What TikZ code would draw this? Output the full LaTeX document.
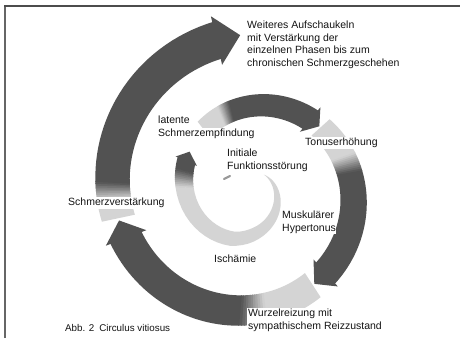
\documentclass[tikz,border=0pt]{standalone}
\usepackage{fontspec}
\setmainfont{Liberation Sans}
\colorlet{lightband}{black!17}
\colorlet{darkband}{black!68}
% one piece of the spiral band between two angles
\newcommand\bandpiece[4]{%
  \fill[#3] plot[variable=\t,domain=#1:#2,samples=#4]
    ({px(\t,rr(\t)+ww(\t)/2)},{py(\t,rr(\t)+ww(\t)/2)})
    -- plot[variable=\t,domain=#2:#1,samples=#4]
    ({px(\t,rr(\t)-ww(\t)/2)},{py(\t,rr(\t)-ww(\t)/2)}) -- cycle;}
% light-to-dark transition
\newcommand\gradpiece[3]{%
  \foreach \gi in {1,...,#3}{%
    \pgfmathsetmacro\gta{#1+(#2-#1)*(\gi-1)/#3}%
    \pgfmathsetmacro\gtb{#1+(#2-#1)*\gi/#3+0.4}%
    \pgfmathtruncatemacro\gpc{17+(68-17)*(\gi-0.5)/#3}%
    \bandpiece{\gta}{\gtb}{black!\gpc}{3}%
  }}
% arrow head
\newcommand\arrowtip[3]{%
  \fill[darkband] ({px(#1,rr(#1)+ww(#1)/2+#3)},{py(#1,rr(#1)+ww(#1)/2+#3)})
    -- ({px(#2,rr(#2))},{py(#2,rr(#2))})
    -- ({px(#1,rr(#1)-ww(#1)/2-#3)},{py(#1,rr(#1)-ww(#1)/2-#3)}) -- cycle;}
% a whole segment: start, light end, dark start, arrow base, arrow tip, barb
\newcommand\spiralseg[6]{%
  \bandpiece{#1}{#2+0.4}{lightband}{40}%
  \gradpiece{#2}{#3}{10}%
  \bandpiece{#3}{#4+0.5}{darkband}{30}%
  \arrowtip{#4}{#5}{#6}}
\begin{document}
\begin{tikzpicture}[x=1pt,y=-1pt,
  declare function={
    rr(\t)=30+\t/5-(\t<110)*6*sin((\t+50)*1.125);
    ww(\t)=min(10+0.045*\t,0.1*(\t+50));
    px(\t,\R)=251+\R*cos(\t);
    py(\t,\R)=190+\R*sin(\t);
  },
  lbl/.style={font=\fontsize{10.5}{12.6}\selectfont, inner sep=1pt,
    fill=white, align=left, text=black!92},
  captext/.style={font=\fontsize{9.8}{12}\selectfont, inner sep=1pt, text=black!92}]
\useasboundingbox (0,0) rectangle (460,338);
\fill[white] (0,0) rectangle (460,338);
% frame
\draw[black!60, line width=1.2pt] (5,338) -- (5,6);
\draw[black!70, line width=1.6pt] (4.4,6) -- (460,6);
% spiral
\spiralseg{-50}{182}{196}{204}{212}{2}
\spiralseg{232}{248}{256}{310}{317}{4}
\spiralseg{318}{340}{350}{408}{416}{4}
\spiralseg{417}{443}{455}{519}{527}{5}
\spiralseg{528}{536}{543}{617}{626}{6}
% small mark at the centre
\draw[black!40, line width=2.2pt, line cap=round] (224,179) -- (230,176);
% labels
\node[lbl, anchor=north west] (top) at (246,19.8)
  {Weiteres Aufschaukeln\\mit Verstärkung der\\einzelnen Phasen bis zum\\chronischen Schmerzgeschehen};
\node[lbl, anchor=base west] (lat) at (157,123.5) {latente};
\node[lbl, anchor=base west] (schm) at (157,136.5) {Schmerzempfindung};
\node[lbl, anchor=north west] (init) at (226,147.8) {Initiale\\Funktionsstörung};
\node[lbl, anchor=base west] (tonus) at (304,145.5) {Tonuserhöhung};
\node[lbl, anchor=north west, inner sep=0.5pt] (musk) at (281.5,210.3) {Muskulärer\\Hypertonus};
\node[lbl, anchor=base west] (isch) at (213,262.5) {Ischämie};
\node[lbl, anchor=base west] (sverst) at (67,205.5) {Schmerzverstärkung};
\node[lbl, anchor=north west] (wurz) at (247,307.8) {Wurzelreizung mit\\sympathischem Reizzustand};
\node[captext, anchor=base west] (abb) at (64,331.5) {Abb. 2\enspace Circulus vitiosus};
\end{tikzpicture}
\end{document}
